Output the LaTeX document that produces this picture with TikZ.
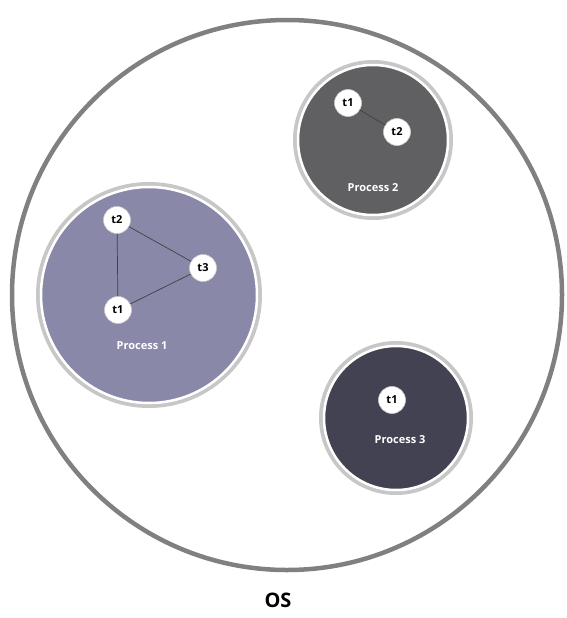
\documentclass[tikz,border=0pt]{standalone}
\usepackage{fontspec}
\setmainfont{Open Sans}
\begin{document}
\begin{tikzpicture}[x=1pt,y=-1pt,
  proc/.style={circle,draw=white,line width=2.5pt,inner sep=0pt},
  halo/.style={circle,draw=black!22,line width=4pt,inner sep=0pt},
  thr/.style={circle,fill=white,draw=black!20,line width=0.6pt,minimum size=27pt,inner sep=0pt,font=\bfseries\fontsize{11}{11}\selectfont},
  plabel/.style={text=white,font=\bfseries\fontsize{11}{13}\selectfont},
  link/.style={draw=black!75,line width=0.7pt}]
\useasboundingbox (0,0) rectangle (567,618);
\fill[white] (0,0) rectangle (567,618);
% OS circle
\node[circle,draw=black!50,line width=4.5pt,minimum size=550pt,inner sep=0pt] (os) at (287,295) {};
\node[font=\bfseries\fontsize{20}{24}\selectfont] (oslabel) at (278,600) {OS};
% Process 1
\node[halo,minimum size=222pt] (h1) at (149,295) {};
\node[proc,fill={rgb,255:red,138;green,136;blue,168},minimum size=216pt] (p1) at (149,295) {};
% Process 2
\node[halo,minimum size=156pt] (h2) at (373,140) {};
\node[proc,fill={rgb,255:red,96;green,96;blue,98},minimum size=150pt] (p2) at (373,140) {};
% Process 3
\node[halo,minimum size=150pt] (h3) at (396,418) {};
\node[proc,fill={rgb,255:red,66;green,66;blue,82},minimum size=144pt] (p3) at (396,418) {};
% threads of process 1
\node[thr] (a2) at (117,220) {t2};
\node[thr] (a3) at (203,268) {t3};
\node[thr] (a1) at (118,310) {t1};
\draw[link] (a2) -- (a3);
\draw[link] (a2) -- (a1);
\draw[link] (a1) -- (a3);
\node[plabel] (l1) at (142,346) {Process 1};
% threads of process 2
\node[thr] (b1) at (348,103) {t1};
\node[thr] (b2) at (397,132) {t2};
\draw[link] (b1) -- (b2);
\node[plabel] (l2) at (373,188) {Process 2};
% thread of process 3
\node[thr] (c1) at (392,400) {t1};
\node[plabel] (l3) at (400,440) {Process 3};
\end{tikzpicture}
\end{document}
